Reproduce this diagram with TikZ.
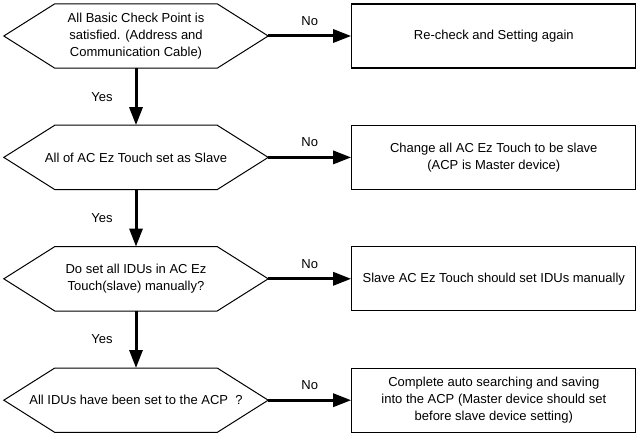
\documentclass[tikz,border=0pt]{standalone}
\usepackage{fontspec}
\setmainfont{Liberation Sans}
\usepackage{tikz}
\usetikzlibrary{arrows.meta,positioning}

\begin{document}
\begin{tikzpicture}[
  font=\fontsize{13}{17}\selectfont,
  node distance=57pt and 83pt,
  dec/.style  ={minimum width=264pt,minimum height=64pt,align=center,inner sep=0pt},
  act/.style  ={draw,line width=1.2pt,minimum width=284pt,minimum height=64pt,
                align=center,inner sep=2pt},
  flow/.style ={line width=3pt,-{Triangle[length=18pt,width=13pt]}},
  lbl/.style  ={inner sep=1pt},
  >={Triangle[length=18pt,width=13pt]}]

\useasboundingbox (0,0) rectangle (639pt,-435pt);

% ---------- decisions (left column) ----------
\node[dec] (chk1) at (136pt,-36pt) {All Basic Check Point is\\satisfied. (Address and\\Communication Cable)};
\node[dec, below=of chk1] (chk2) {All of AC Ez Touch set as Slave};
\node[dec, below=of chk2] (chk3) {Do set all IDUs in AC Ez\\Touch(slave) manually?};
\node[dec, below=of chk3] (chk4) {All IDUs have been set to the ACP\ \ ?};

% hexagon outline round each decision
\foreach \q in {chk1,chk2,chk3,chk4}
  \draw[line width=1pt] (\q.west) -- ([xshift=51pt]\q.north west) -- ([xshift=-51pt]\q.north east)
    -- (\q.east) -- ([xshift=-51pt]\q.south east) -- ([xshift=51pt]\q.south west) -- cycle;

% ---------- actions (right column) ----------
\node[act, right=of chk1] (fix1) {Re-check and Setting again};
\node[act, right=of chk2] (fix2) {Change all AC Ez Touch to be slave\\(ACP is Master device)};
\node[act, right=of chk3] (fix3) {Slave AC Ez Touch should set IDUs manually};
\node[act, right=of chk4] (fix4) {Complete auto searching and saving\\into the ACP (Master device should set\\before slave device setting)};

% ---------- connectors ----------
\draw[flow] (chk1) -- node[lbl,left=21pt] {Yes} (chk2);
\draw[flow] (chk2) -- node[lbl,left=21pt] {Yes} (chk3);
\draw[flow] (chk3) -- node[lbl,left=21pt] {Yes} (chk4);

\foreach \i in {1,2,3,4}
  \draw[flow] (chk\i) -- node[lbl,above=8pt] {No} (fix\i);

\end{tikzpicture}
\end{document}
